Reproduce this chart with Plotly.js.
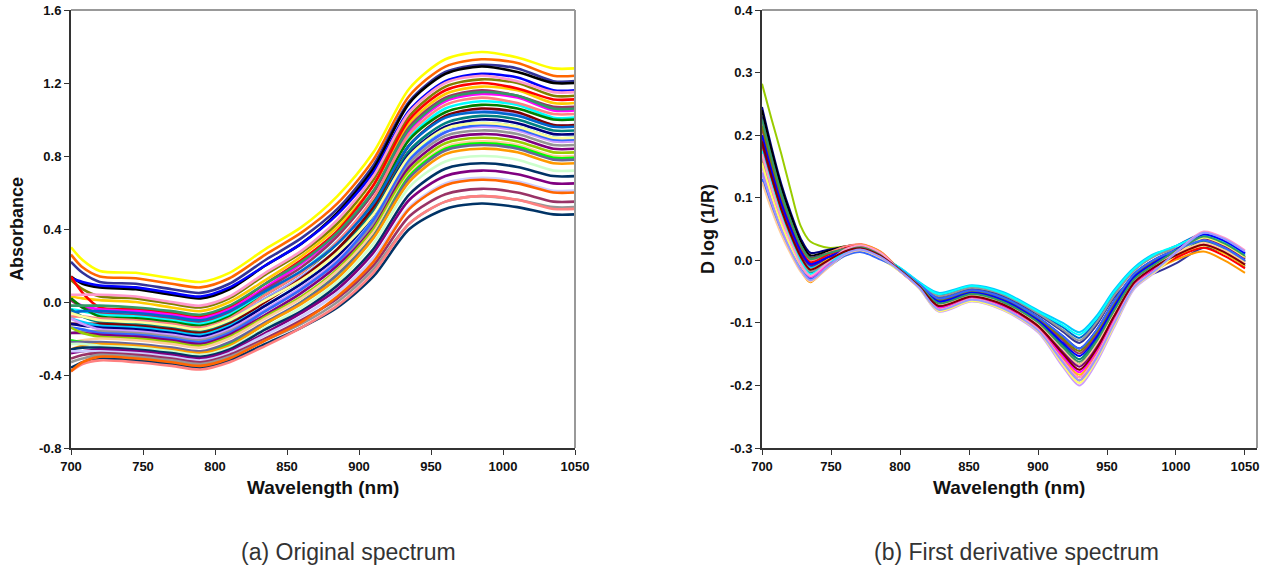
<!DOCTYPE html>
<html><head><meta charset="utf-8">
<script src="https://cdn.plot.ly/plotly-3.0.1.min.js"></script>
<style>html,body{margin:0;padding:0;background:#fff}#chart{width:1266px;height:569px}</style>
</head><body><div id="chart"></div>
<script>
// ---------- Panel (a): original absorbance spectra ----------
const wavelengthA = [700,708,720,745,770,790,810,835,860,885,910,935,960,985,1010,1035,1050];
const absA01 = [0.30,0.23,0.17,0.16,0.13,0.11,0.16,0.29,0.41,0.58,0.82,1.17,1.33,1.37,1.34,1.28,1.28];
const absA02 = [0.26,0.19,0.14,0.13,0.10,0.08,0.13,0.26,0.38,0.54,0.78,1.13,1.29,1.33,1.31,1.24,1.24];
const absA03 = [0.22,0.16,0.11,0.10,0.07,0.05,0.10,0.23,0.35,0.51,0.75,1.10,1.26,1.30,1.28,1.21,1.21];
const absA04 = [0.14,0.10,0.08,0.07,0.04,0.02,0.07,0.20,0.32,0.49,0.73,1.09,1.25,1.29,1.26,1.20,1.20];
const absA05 = [0.13,0.11,0.09,0.08,0.05,0.03,0.08,0.20,0.32,0.48,0.71,1.05,1.21,1.25,1.23,1.16,1.16];
const absA06 = [0.12,0.07,0.03,0.02,-0.01,-0.03,0.02,0.15,0.27,0.43,0.67,1.02,1.18,1.22,1.20,1.13,1.13];
const absA07 = [0.03,0.02,0.01,0.00,-0.03,-0.05,0.00,0.12,0.25,0.41,0.64,0.98,1.14,1.18,1.16,1.09,1.09];
const absA08 = [0.14,0.05,-0.03,-0.04,-0.06,-0.08,-0.03,0.10,0.23,0.39,0.64,1.00,1.16,1.20,1.17,1.11,1.11];
const absA09 = [0.01,-0.02,-0.04,-0.05,-0.07,-0.09,-0.04,0.08,0.21,0.37,0.60,0.94,1.10,1.14,1.12,1.05,1.05];
const absA10 = [0.01,-0.03,-0.06,-0.07,-0.09,-0.11,-0.06,0.07,0.19,0.36,0.60,0.96,1.12,1.16,1.13,1.07,1.07];
const absA11 = [-0.04,-0.05,-0.07,-0.08,-0.10,-0.12,-0.07,0.05,0.17,0.33,0.56,0.90,1.06,1.10,1.08,1.01,1.01];
const absA12 = [0.02,-0.03,-0.08,-0.09,-0.11,-0.13,-0.08,0.04,0.16,0.32,0.55,0.89,1.04,1.08,1.06,1.00,1.00];
const absA13 = [-0.08,-0.08,-0.09,-0.10,-0.12,-0.14,-0.09,0.04,0.16,0.33,0.57,0.92,1.08,1.12,1.09,1.03,1.03];
const absA14 = [-0.05,-0.08,-0.10,-0.11,-0.13,-0.15,-0.10,0.02,0.14,0.29,0.52,0.86,1.01,1.05,1.03,0.97,0.97];
const absA15 = [-0.04,-0.08,-0.11,-0.12,-0.14,-0.16,-0.11,0.01,0.12,0.28,0.50,0.83,0.98,1.02,1.00,0.94,0.94];
const absA16 = [-0.12,-0.12,-0.12,-0.13,-0.15,-0.17,-0.12,0.00,0.13,0.29,0.52,0.86,1.02,1.06,1.04,0.97,0.97];
const absA17 = [-0.09,-0.11,-0.13,-0.14,-0.16,-0.18,-0.13,-0.02,0.10,0.25,0.47,0.79,0.95,0.98,0.96,0.90,0.90];
const absA18 = [-0.12,-0.13,-0.14,-0.15,-0.17,-0.19,-0.14,-0.02,0.10,0.25,0.48,0.81,0.96,1.00,0.98,0.92,0.92];
const absA19 = [-0.09,-0.12,-0.15,-0.16,-0.18,-0.20,-0.15,-0.04,0.08,0.23,0.45,0.77,0.93,0.96,0.94,0.88,0.88];
const absA20 = [-0.17,-0.16,-0.16,-0.17,-0.19,-0.21,-0.16,-0.05,0.07,0.22,0.43,0.76,0.91,0.94,0.92,0.86,0.86];
const absA21 = [-0.14,-0.15,-0.17,-0.18,-0.20,-0.22,-0.17,-0.05,0.07,0.22,0.45,0.78,0.93,0.97,0.95,0.89,0.89];
const absA22 = [-0.17,-0.17,-0.18,-0.19,-0.21,-0.23,-0.18,-0.07,0.05,0.20,0.41,0.74,0.89,0.92,0.90,0.84,0.84];
const absA23 = [-0.14,-0.17,-0.19,-0.20,-0.22,-0.24,-0.19,-0.08,0.03,0.18,0.40,0.72,0.87,0.90,0.88,0.82,0.82];
const absA24 = [-0.22,-0.21,-0.20,-0.21,-0.23,-0.25,-0.20,-0.09,0.02,0.17,0.38,0.70,0.85,0.88,0.86,0.80,0.80];
const absA25 = [-0.21,-0.22,-0.23,-0.24,-0.26,-0.28,-0.23,-0.12,0.00,0.15,0.36,0.69,0.84,0.87,0.85,0.79,0.79];
const absA26 = [-0.22,-0.22,-0.22,-0.23,-0.25,-0.27,-0.22,-0.11,0.00,0.15,0.36,0.68,0.83,0.86,0.84,0.78,0.78];
const absA27 = [-0.26,-0.24,-0.23,-0.24,-0.26,-0.28,-0.24,-0.12,-0.01,0.13,0.35,0.66,0.81,0.84,0.82,0.76,0.76];
const absA28 = [-0.23,-0.23,-0.24,-0.25,-0.27,-0.29,-0.25,-0.14,-0.03,0.11,0.32,0.63,0.77,0.80,0.78,0.72,0.72];
const absA29 = [-0.26,-0.25,-0.25,-0.26,-0.28,-0.30,-0.26,-0.15,-0.05,0.09,0.29,0.59,0.73,0.76,0.74,0.69,0.69];
const absA30 = [-0.28,-0.27,-0.26,-0.27,-0.29,-0.31,-0.27,-0.17,-0.06,0.07,0.27,0.56,0.69,0.72,0.70,0.65,0.65];
const absA31 = [-0.27,-0.27,-0.27,-0.28,-0.30,-0.32,-0.28,-0.18,-0.08,0.05,0.24,0.52,0.65,0.68,0.66,0.61,0.61];
const absA32 = [-0.31,-0.29,-0.28,-0.29,-0.31,-0.33,-0.29,-0.20,-0.10,0.02,0.20,0.47,0.59,0.62,0.60,0.55,0.55];
const absA33 = [-0.33,-0.31,-0.29,-0.30,-0.32,-0.34,-0.30,-0.21,-0.12,0.00,0.18,0.43,0.55,0.58,0.56,0.52,0.52];
const absA34 = [-0.36,-0.33,-0.31,-0.32,-0.34,-0.36,-0.32,-0.23,-0.14,-0.03,0.14,0.40,0.51,0.54,0.52,0.48,0.48];
const absA35 = [-0.38,-0.34,-0.32,-0.33,-0.35,-0.37,-0.33,-0.24,-0.14,-0.02,0.16,0.43,0.55,0.58,0.56,0.51,0.51];
const absA36 = [-0.38,-0.33,-0.30,-0.31,-0.33,-0.35,-0.31,-0.21,-0.11,0.03,0.22,0.51,0.64,0.67,0.65,0.60,0.60];
const absA37 = [0.04,0.04,0.04,0.03,0.00,-0.02,0.03,0.16,0.28,0.45,0.69,1.04,1.20,1.24,1.21,1.15,1.15];
const absA38 = [-0.02,-0.02,-0.02,-0.03,-0.05,-0.07,-0.02,0.10,0.22,0.38,0.61,0.95,1.11,1.15,1.13,1.06,1.06];
const absA39 = [-0.06,-0.05,-0.05,-0.06,-0.08,-0.10,-0.05,0.06,0.17,0.32,0.54,0.86,1.01,1.04,1.02,0.96,0.96];
const absA40 = [-0.06,-0.08,-0.10,-0.11,-0.13,-0.15,-0.10,0.01,0.12,0.27,0.48,0.80,0.95,0.98,0.96,0.90,0.90];
const colorsA = ['#FFFF00','#FF6600','#333399','#000000','#0000FF','#808000','#FFCC00','#FF0000','#FF00FF','#993366',
                 '#00FFFF','#008000','#FF8080','#9999FF','#008080','#800000','#00CCFF','#000080','#CC99FF','#969696',
                 '#3366FF','#800080','#99CC00','#FFCC99','#00FF00','#666699','#FF9900','#CCFFCC','#003366','#800080',
                 '#CCCCFF','#993366','#969696','#003366','#FF8080','#FF6600','#FF99CC','#339966','#0066CC','#FFFF99'];

// ---------- Panel (b): first derivative spectra ----------
const wavelengthB = [700,707,714,721,728,735,748,760,772,786,800,814,828,852,875,900,918,930,942,955,970,985,1000,1020,1035,1050];
const derB01 = [0.282,0.225,0.170,0.110,0.055,0.030,0.020,0.022,0.025,0.013,-0.015,-0.040,-0.067,-0.053,-0.066,-0.098,-0.135,-0.158,-0.128,-0.078,-0.028,-0.004,0.014,0.033,0.022,0.002];
const derB02 = [0.245,0.180,0.122,0.075,0.035,0.012,0.017,0.021,0.022,0.010,-0.014,-0.038,-0.061,-0.048,-0.060,-0.091,-0.121,-0.141,-0.113,-0.066,-0.021,0.002,0.016,0.030,0.018,-0.002];
const derB03 = [0.230,0.167,0.111,0.066,0.028,0.005,0.012,0.018,0.020,0.008,-0.013,-0.037,-0.058,-0.045,-0.057,-0.087,-0.114,-0.132,-0.105,-0.060,-0.030,-0.020,-0.005,0.020,0.012,-0.010];
const derB04 = [0.240,0.175,0.117,0.071,0.031,0.008,0.015,0.022,0.024,0.012,-0.016,-0.041,-0.070,-0.056,-0.068,-0.101,-0.142,-0.166,-0.135,-0.084,-0.031,-0.007,0.013,0.036,0.025,0.005];
const derB05 = [0.220,0.158,0.103,0.059,0.022,0.000,0.012,0.022,0.026,0.014,-0.016,-0.042,-0.073,-0.058,-0.071,-0.105,-0.149,-0.175,-0.143,-0.090,-0.035,-0.010,0.013,0.040,0.029,0.009];
const derB06 = [0.210,0.150,0.096,0.053,0.017,-0.005,0.006,0.016,0.020,0.008,-0.014,-0.039,-0.064,-0.050,-0.063,-0.094,-0.128,-0.149,-0.120,-0.072,-0.025,-0.001,0.014,0.030,0.018,-0.002];
const derB07 = [0.200,0.141,0.089,0.047,0.011,-0.010,0.003,0.014,0.018,0.006,-0.013,-0.036,-0.055,-0.043,-0.054,-0.084,-0.107,-0.124,-0.098,-0.054,-0.014,0.008,0.023,0.043,0.032,0.012];
const derB08 = [0.190,0.133,0.083,0.043,0.008,-0.012,0.000,0.011,0.015,0.003,-0.012,-0.035,-0.052,-0.040,-0.051,-0.080,-0.100,-0.115,-0.090,-0.048,-0.011,0.011,0.019,0.027,0.014,-0.006];
const derB09 = [0.180,0.125,0.077,0.038,0.005,-0.015,0.002,0.016,0.022,0.010,-0.017,-0.043,-0.076,-0.061,-0.074,-0.108,-0.156,-0.183,-0.150,-0.096,-0.038,-0.013,0.006,0.024,0.011,-0.009];
const derB10 = [0.215,0.156,0.103,0.060,0.024,0.003,0.011,0.017,0.020,0.008,-0.014,-0.039,-0.063,-0.049,-0.061,-0.092,-0.125,-0.145,-0.116,-0.069,-0.023,0.001,0.017,0.036,0.025,0.005];
const derB11 = [0.160,0.105,0.057,0.018,-0.016,-0.035,-0.008,0.016,0.025,0.013,-0.017,-0.044,-0.079,-0.063,-0.077,-0.112,-0.163,-0.192,-0.158,-0.102,-0.042,-0.016,0.001,0.014,0.000,-0.020];
const derB12 = [0.150,0.099,0.053,0.016,-0.015,-0.033,-0.011,0.008,0.015,0.003,-0.018,-0.045,-0.082,-0.066,-0.080,-0.115,-0.170,-0.200,-0.165,-0.108,-0.045,-0.019,0.010,0.043,0.032,0.012];
const derB13 = [0.170,0.117,0.069,0.031,-0.001,-0.020,-0.003,0.012,0.018,0.006,-0.015,-0.040,-0.067,-0.053,-0.066,-0.098,-0.135,-0.158,-0.128,-0.078,-0.028,-0.004,0.013,0.030,0.018,-0.002];
const derB14 = [0.140,0.093,0.051,0.017,-0.011,-0.028,-0.006,0.013,0.020,0.008,-0.017,-0.043,-0.075,-0.060,-0.073,-0.106,-0.153,-0.179,-0.146,-0.093,-0.037,-0.012,0.008,0.027,0.014,-0.006];
const derB15 = [0.165,0.114,0.068,0.031,0.000,-0.018,-0.003,0.011,0.016,0.004,-0.013,-0.037,-0.057,-0.044,-0.055,-0.085,-0.111,-0.128,-0.101,-0.057,-0.016,0.007,0.019,0.033,0.022,0.002];
const derB16 = [0.175,0.120,0.071,0.031,-0.002,-0.022,-0.004,0.011,0.017,0.005,-0.012,-0.036,-0.054,-0.041,-0.053,-0.082,-0.104,-0.119,-0.094,-0.051,-0.013,0.010,0.023,0.040,0.029,0.009];
const derB17 = [0.185,0.131,0.083,0.044,0.011,-0.008,0.005,0.017,0.021,0.009,-0.016,-0.042,-0.072,-0.057,-0.070,-0.103,-0.146,-0.170,-0.139,-0.087,-0.033,-0.009,0.012,0.035,0.023,0.003];
const derB18 = [0.195,0.140,0.090,0.050,0.017,-0.003,0.009,0.019,0.023,0.011,-0.017,-0.044,-0.078,-0.062,-0.076,-0.110,-0.160,-0.187,-0.154,-0.099,-0.040,-0.015,0.004,0.020,0.007,-0.013];
const derB19 = [0.155,0.103,0.057,0.020,-0.012,-0.030,-0.010,0.007,0.014,0.002,-0.018,-0.045,-0.081,-0.065,-0.079,-0.113,-0.167,-0.196,-0.161,-0.105,-0.043,-0.018,0.008,0.036,0.025,0.005];
const derB20 = [0.200,0.142,0.091,0.050,0.015,-0.006,0.005,0.015,0.019,0.007,-0.015,-0.040,-0.066,-0.052,-0.064,-0.096,-0.132,-0.153,-0.124,-0.075,-0.026,-0.003,0.017,0.041,0.031,0.011];
const derB21 = [0.130,0.085,0.045,0.013,-0.014,-0.030,-0.011,0.007,0.013,0.001,-0.014,-0.038,-0.061,-0.048,-0.060,-0.091,-0.121,-0.141,-0.113,-0.066,-0.021,0.002,0.016,0.032,0.020,0.000];
const derB22 = [0.125,0.080,0.041,0.009,-0.018,-0.034,-0.012,0.009,0.016,0.004,-0.016,-0.041,-0.070,-0.056,-0.068,-0.101,-0.142,-0.166,-0.135,-0.084,-0.031,-0.007,0.010,0.028,0.016,-0.004];
const derB23 = [0.225,0.163,0.107,0.062,0.024,0.002,0.011,0.018,0.021,0.009,-0.015,-0.041,-0.069,-0.054,-0.067,-0.099,-0.139,-0.162,-0.131,-0.081,-0.030,-0.006,0.015,0.038,0.027,0.007];
const derB24 = [0.170,0.115,0.067,0.028,-0.006,-0.025,-0.003,0.017,0.024,0.012,-0.017,-0.044,-0.078,-0.062,-0.076,-0.110,-0.160,-0.187,-0.154,-0.099,-0.040,-0.015,0.013,0.046,0.036,0.016];
const derB25 = [0.190,0.133,0.081,0.040,0.006,-0.015,0.000,0.014,0.019,0.007,-0.016,-0.042,-0.073,-0.058,-0.071,-0.105,-0.149,-0.175,-0.143,-0.090,-0.035,-0.010,0.008,0.025,0.013,-0.007];
const derB26 = [0.140,0.092,0.049,0.014,-0.015,-0.032,-0.010,0.010,0.017,0.005,-0.017,-0.044,-0.079,-0.063,-0.077,-0.112,-0.163,-0.192,-0.158,-0.102,-0.042,-0.016,0.012,0.044,0.034,0.014];
const colorsB = ['#99CC00','#000080','#333399','#000000','#FF8080','#993366','#0066CC','#00CCFF','#FFCC00','#808000',
                 '#FF9900','#CC99FF','#008080','#FF00FF','#969696','#00FFFF','#800080','#FF0000','#FFFF66','#0000FF',
                 '#3366FF','#FFCC99','#339966','#FF99CC','#800000','#9999FF'];

// ---------- Axis ticks and texts ----------
const xTickVals = [700,750,800,850,900,950,1000,1050];
const xTickText = ['700','750','800','850','900','950','1000','1050'];
const yTickValsA = [-0.8,-0.4,0,0.4,0.8,1.2,1.6];
const yTickTextA = ['-0.8','-0.4','0.0','0.4','0.8','1.2','1.6'];
const yTickValsB = [-0.3,-0.2,-0.1,0,0.1,0.2,0.3,0.4];
const yTickTextB = ['-0.3','-0.2','-0.1','0.0','0.1','0.2','0.3','0.4'];
const titleYA = 'Absorbance';
const titleYB = 'D log (1/R)';
const titleX = 'Wavelength (nm)';
const captionA = '(a) Original spectrum';
const captionB = '(b) First derivative spectrum';

const seriesA = [absA01,absA02,absA03,absA04,absA05,absA06,absA07,absA08,absA09,absA10,absA11,absA12,absA13,absA14,absA15,absA16,absA17,absA18,absA19,absA20,
                 absA21,absA22,absA23,absA24,absA25,absA26,absA27,absA28,absA29,absA30,absA31,absA32,absA33,absA34,absA35,absA36,absA37,absA38,absA39,absA40];
const seriesB = [derB01,derB02,derB03,derB04,derB05,derB06,derB07,derB08,derB09,derB10,derB11,derB12,derB13,derB14,derB15,derB16,derB17,derB18,derB19,derB20,
                 derB21,derB22,derB23,derB24,derB25,derB26];

const traces = [];
seriesA.forEach((ys, i) => traces.push({
  type:'scatter', mode:'lines', x: wavelengthA, y: ys, xaxis:'x', yaxis:'y',
  line:{color: colorsA[i % colorsA.length], width:2.6, shape:'spline', smoothing:0.8}, hoverinfo:'skip'
}));
seriesB.forEach((ys, i) => traces.push({
  type:'scatter', mode:'lines', x: wavelengthB, y: ys, xaxis:'x2', yaxis:'y2',
  line:{color: colorsB[i % colorsB.length], width:2, shape:'spline', smoothing:0.8}, hoverinfo:'skip'
}));

const bold = arr => arr.map(t => '<b>' + t + '</b>');
const W = 1266, H = 569;
const px = v => v / W, py = v => (H - v) / H;
const tickFont = {family:'Liberation Sans, Arial, sans-serif', size:13, color:'#111', weight:700};
const axisCommon = {
  showgrid:false, zeroline:false, showline:true, linecolor:'#333', linewidth:2,
  ticks:'outside', ticklen:5, tickwidth:1, tickcolor:'#333', tickfont: tickFont, fixedrange:true
};
const yDom = [py(448), py(10)];

const layout = {
  width: W, height: H, margin:{l:0, r:0, t:0, b:0},
  paper_bgcolor:'#fff', plot_bgcolor:'#fff', showlegend:false,
  font:{family:'Liberation Sans, Arial, sans-serif', color:'#000'},
  xaxis: Object.assign({}, axisCommon, {domain:[px(71), px(575)], range:[700,1050], tickvals:xTickVals, ticktext:bold(xTickText), anchor:'y'}),
  yaxis: Object.assign({}, axisCommon, {domain:yDom, range:[-0.8,1.6], tickvals:yTickValsA, ticktext:bold(yTickTextA), anchor:'x'}),
  xaxis2: Object.assign({}, axisCommon, {domain:[px(762), px(1257)], range:[700,1058.7], tickvals:xTickVals, ticktext:bold(xTickText), anchor:'y2'}),
  yaxis2: Object.assign({}, axisCommon, {domain:yDom, range:[-0.3,0.4], tickvals:yTickValsB, ticktext:bold(yTickTextB), anchor:'x2'}),
  shapes: [
    {type:'line', xref:'x domain', yref:'y domain', x0:0, x1:1, y0:1, y1:1, line:{color:'#999', width:2}},
    {type:'line', xref:'x domain', yref:'y domain', x0:1, x1:1, y0:0, y1:1, line:{color:'#999', width:2}},
    {type:'line', xref:'x2 domain', yref:'y2 domain', x0:0, x1:1, y0:1, y1:1, line:{color:'#999', width:2}},
    {type:'line', xref:'x2 domain', yref:'y2 domain', x0:1, x1:1, y0:0, y1:1, line:{color:'#999', width:2}}
  ],
  annotations: [
    {text:'<b>' + titleYA + '</b>', xref:'paper', yref:'paper', x:px(17), y:py(229), textangle:-90, showarrow:false, xanchor:'center', yanchor:'middle',
     font:{family:'Liberation Sans, Arial, sans-serif', size:18, color:'#111'}},
    {text:'<b>' + titleYB + '</b>', xref:'paper', yref:'paper', x:px(708), y:py(229), textangle:-90, showarrow:false, xanchor:'center', yanchor:'middle',
     font:{family:'Liberation Sans, Arial, sans-serif', size:18, color:'#111'}},
    {text:'<b>' + titleX + '</b>', xref:'paper', yref:'paper', x:px(323), y:py(487), showarrow:false, xanchor:'center', yanchor:'middle',
     font:{family:'Liberation Sans, Arial, sans-serif', size:19, color:'#111'}},
    {text:'<b>' + titleX + '</b>', xref:'paper', yref:'paper', x:px(1009), y:py(487), showarrow:false, xanchor:'center', yanchor:'middle',
     font:{family:'Liberation Sans, Arial, sans-serif', size:19, color:'#111'}},
    {text:captionA, xref:'paper', yref:'paper', x:px(348), y:py(552), showarrow:false, xanchor:'center', yanchor:'middle',
     font:{family:'Liberation Sans, Arial, sans-serif', size:23, color:'#333'}},
    {text:captionB, xref:'paper', yref:'paper', x:px(1016), y:py(552), showarrow:false, xanchor:'center', yanchor:'middle',
     font:{family:'Liberation Sans, Arial, sans-serif', size:23, color:'#333'}}
  ]
};

Plotly.newPlot('chart', traces, layout, {staticPlot:true, displayModeBar:false});
</script>
</body></html>
